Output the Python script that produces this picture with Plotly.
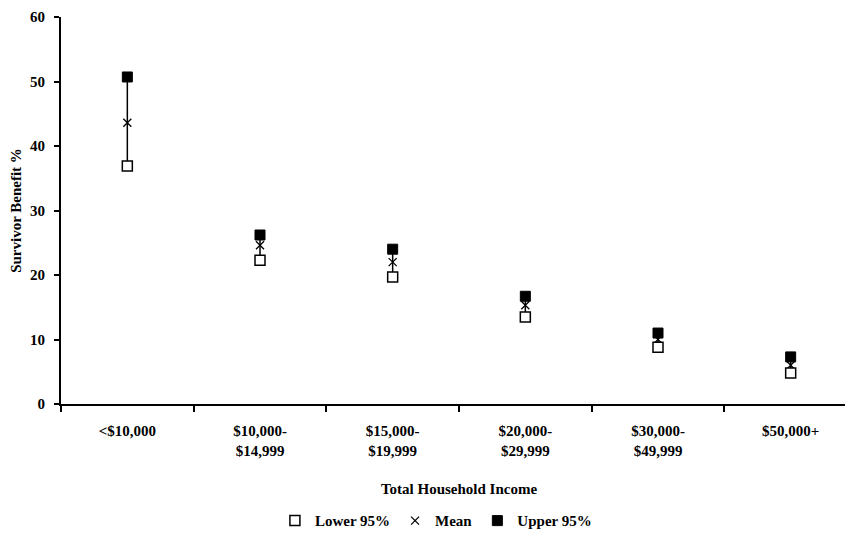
import plotly.graph_objects as go

categories = ["<$10,000", "$10,000-<br>$14,999", "$15,000-<br>$19,999",
              "$20,000-<br>$29,999", "$30,000-<br>$49,999", "$50,000+"]
lower = [36.9, 22.3, 19.7, 13.5, 8.8, 4.8]
mean = [43.6, 24.6, 22.0, 15.3, 10.0, 6.0]
upper = [50.7, 26.2, 24.0, 16.7, 11.0, 7.3]

err_plus = [u - m for u, m in zip(upper, mean)]
err_minus = [m - l for m, l in zip(mean, lower)]

FONT = "Liberation Serif"
TF = dict(family=FONT, size=15, color="black", weight="bold")

fig = go.Figure()
fig.add_trace(go.Scatter(
    x=categories, y=mean, mode="markers", name="Mean",
    marker=dict(symbol="x-thin", size=8, line=dict(color="black", width=1.3), color="black"),
    error_y=dict(type="data", array=err_plus, arrayminus=err_minus,
                 width=0, thickness=1.5, color="black"),
    legendrank=2,
))
fig.add_trace(go.Scatter(
    x=categories, y=lower, mode="markers", name="Lower 95%",
    marker=dict(symbol="square", size=10, color="white", line=dict(color="black", width=1.5)),
    legendrank=1,
))
fig.add_trace(go.Scatter(
    x=categories, y=upper, mode="markers", name="Upper 95%",
    marker=dict(symbol="square", size=10, color="black", line=dict(color="black", width=1)),
    legendrank=3,
))

fig.update_layout(
    width=853, height=540,
    margin=dict(l=53, r=4, t=9, b=144),
    plot_bgcolor="white", paper_bgcolor="white",
    font=dict(family=FONT, size=15, color="black"),
    showlegend=True,
    legend=dict(orientation="h", x=0.471, xanchor="center", y=-0.302, yanchor="middle",
                font=TF, itemwidth=30, tracegroupgap=0),
    xaxis=dict(
        type="category", range=[-0.5, 5.5], automargin=False,
        showline=True, linecolor="black", linewidth=2,
        ticks="outside", ticklen=6, tickwidth=1.5, tickcolor="black",
        tickson="boundaries", showgrid=False, zeroline=False,
        tickfont=TF, ticklabelstandoff=12,
        title=dict(text="Total Household Income", standoff=26, font=TF),
    ),
    yaxis=dict(
        range=[0, 60], dtick=10, automargin=False,
        showline=True, linecolor="black", linewidth=2,
        ticks="outside", ticklen=5, tickwidth=1.5, tickcolor="black",
        showgrid=False, zeroline=False,
        tickfont=TF, ticklabelstandoff=6,
        title=dict(text="Survivor Benefit %", standoff=6,
                   font=dict(family=FONT, size=15, color="black", weight="bold")),
    ),
)

fig.write_html("out.html")
